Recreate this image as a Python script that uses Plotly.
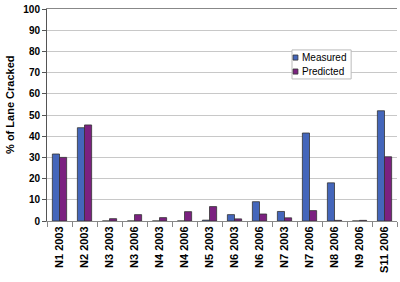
import plotly.graph_objects as go

categories = ["N1 2003", "N2 2003", "N3 2003", "N3 2006", "N4 2003", "N4 2006", "N5 2003",
              "N6 2003", "N6 2006", "N7 2003", "N7 2006", "N8 2006", "N9 2006", "S11 2006"]
measured = [31.6, 44.0, 0, 0, 0, 0, 0.4, 3.0, 9.1, 4.5, 41.5, 18.0, 0, 52.0]
predicted = [30.0, 45.3, 1.1, 3.0, 1.6, 4.4, 6.8, 1.0, 3.3, 1.5, 4.9, 0.3, 0.3, 30.3]
y_ticks = [0, 10, 20, 30, 40, 50, 60, 70, 80, 90, 100]
series_names = ["Measured", "Predicted"]
series_colors = ["#4466BB", "#7B2180"]

FONT = "Liberation Sans, Arial, sans-serif"

fig = go.Figure()
for name, vals, col in zip(series_names, [measured, predicted], series_colors):
    fig.add_trace(go.Bar(x=categories, y=vals, name=name, showlegend=False,
                         marker=dict(color=col, line=dict(color="#333333", width=0.8))))

# compact legend box drawn with shapes/annotations (paper coords of plot area)
shapes = [dict(type="rect", xref="paper", yref="paper", x0=0.70, x1=0.869, y0=0.67, y1=0.807,
               fillcolor="white", line=dict(color="#BBBBBB", width=1), layer="above")]
annotations = []
for i, (name, col) in enumerate(zip(series_names, series_colors)):
    yc = 0.771 - i * 0.066
    shapes.append(dict(type="rect", xref="paper", yref="paper", x0=0.703, x1=0.717,
                       y0=yc - 0.012, y1=yc + 0.012, fillcolor=col,
                       line=dict(color="#333333", width=0.8), layer="above"))
    annotations.append(dict(text=name, xref="paper", yref="paper", x=0.722, y=yc,
                            xanchor="left", yanchor="middle", showarrow=False,
                            font=dict(size=10, family=FONT, color="black")))
annotations.append(dict(text="<b>% of Lane Cracked</b>", xref="paper", yref="paper",
                        x=-0.106, y=0.547, xanchor="center", yanchor="middle",
                        textangle=-90, showarrow=False,
                        font=dict(size=11, family=FONT, color="black")))

fig.update_layout(
    width=400, height=282,
    margin=dict(l=47, r=3, t=9, b=61),
    paper_bgcolor="white", plot_bgcolor="white",
    barmode="group", bargap=0.43, bargroupgap=0,
    font=dict(family=FONT, size=10, color="black"),
    showlegend=False,
    shapes=shapes, annotations=annotations,
)
fig.update_xaxes(
    type="category", tickangle=-90, showgrid=False,
    showline=True, linecolor="#888888", linewidth=1, mirror=True,
    ticks="outside", tickson="boundaries", ticklen=5, tickcolor="#888888",
    tickfont=dict(size=11, family=FONT, weight="bold"),
)
fig.update_yaxes(
    range=[0, 100], tickvals=y_ticks, showgrid=True, gridcolor="#C8C8C8", gridwidth=1,
    showline=True, linecolor="#555555", linewidth=1,
    ticks="outside", ticklen=4, tickcolor="#555555",
    tickfont=dict(size=10, weight="bold"),
    zeroline=False,
)
fig.write_html("out.html")
